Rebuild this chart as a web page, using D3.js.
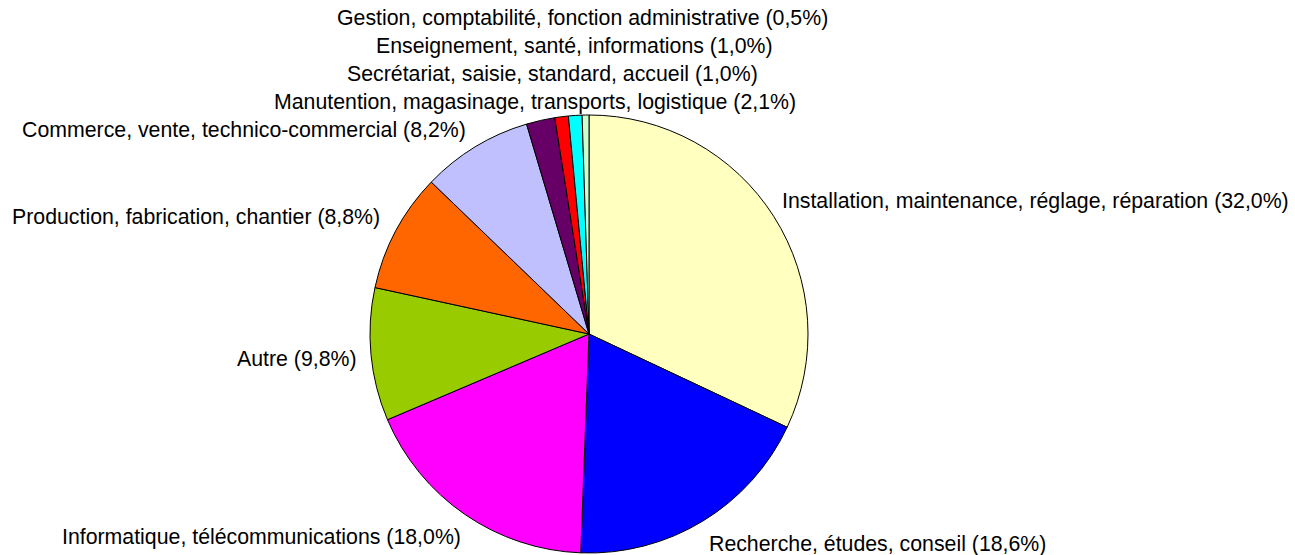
<!DOCTYPE html>
<html>
<head>
<meta charset="utf-8">
<script src="https://cdn.jsdelivr.net/npm/d3@7"></script>
<style>
  body { margin: 0; background: #fff; }
  text { font-family: "Liberation Sans", Arial, sans-serif; fill: #000; }
</style>
</head>
<body>
<div id="chart"></div>
<script>
// Chart data
var categories = [
    "Installation, maintenance, réglage, réparation",
    "Recherche, études, conseil",
    "Informatique, télécommunications",
    "Autre",
    "Production, fabrication, chantier",
    "Commerce, vente, technico-commercial",
    "Manutention, magasinage, transports, logistique",
    "Secrétariat, saisie, standard, accueil",
    "Enseignement, santé, informations",
    "Gestion, comptabilité, fonction administrative"
];
var values = [32.0, 18.6, 18.0, 9.8, 8.8, 8.2, 2.1, 1.0, 1.0, 0.5];
var colors = ["#FFFFC0", "#0000FF", "#FF00FF", "#99CC00", "#FF6600",
              "#C0C0FF", "#660066", "#FF0000", "#00FFFF", "#CCFFCC"];

// Label placement (start x, baseline y), Excel-style manual layout
var labelPos = [
    [782, 208], [709, 551], [62, 544], [237, 366], [12, 224],
    [22, 137], [274, 109], [347, 81], [376, 53], [337, 25]
];

var svgWidth = 1295;
var svgHeight = 555;
var cx = 589, cy = 334, radius = 219;

var svg = d3.select("#chart")
    .append("svg")
    .attr("width", svgWidth)
    .attr("height", svgHeight);

var pie = d3.pie()
    .sort(null)
    .value(d => d)
    .startAngle(0)
    .endAngle(2 * Math.PI);

var arc = d3.arc()
    .innerRadius(0)
    .outerRadius(radius);

var pieGroup = svg.append("g")
    .attr("transform", `translate(${cx}, ${cy})`);

pieGroup.selectAll("path")
    .data(pie(values))
    .enter()
    .append("path")
    .attr("d", arc)
    .attr("fill", (d, i) => colors[i])
    .attr("stroke", "#000")
    .attr("stroke-width", 1);

// Labels
var fmt = v => v.toFixed(1).replace(".", ",");
svg.selectAll(".label")
    .data(categories)
    .enter()
    .append("text")
    .attr("class", "label")
    .attr("x", (d, i) => labelPos[i][0])
    .attr("y", (d, i) => labelPos[i][1])
    .style("font-size", "21.3px")
    .text((d, i) => `${d} (${fmt(values[i])}%)`);
</script>
</body>
</html>
